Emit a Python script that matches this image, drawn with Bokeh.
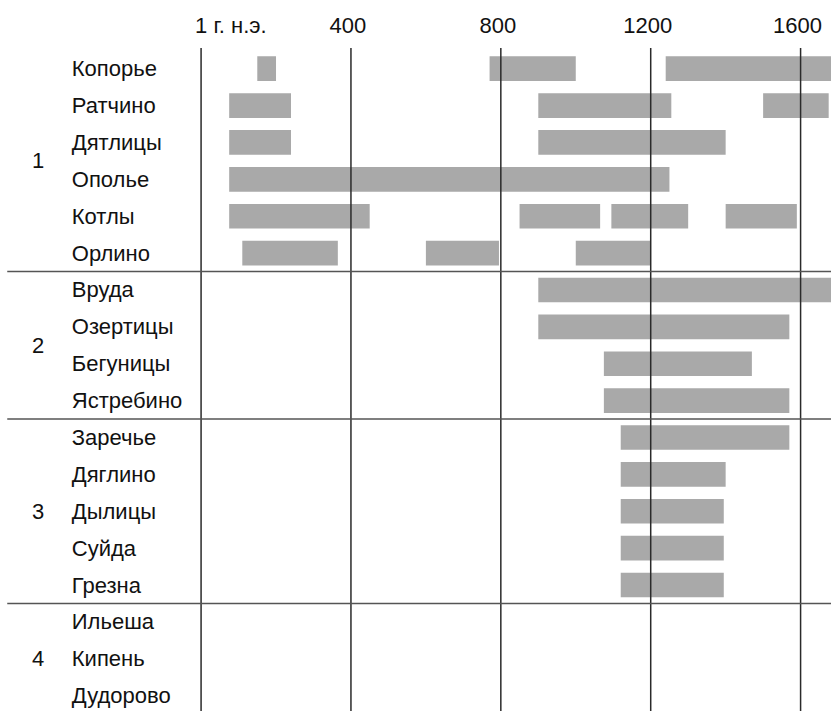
from bokeh.plotting import figure
from bokeh.models import Range1d, ColumnDataSource
from bokeh.core.properties import value
from bokeh.embed import file_html
from bokeh.resources import INLINE

# ---- data ----
sites = ["Копорье", "Ратчино", "Дятлицы", "Ополье", "Котлы", "Орлино",
         "Вруда", "Озертицы", "Бегуницы", "Ястребино",
         "Заречье", "Дяглино", "Дылицы", "Суйда", "Грезна",
         "Ильеша", "Кипень", "Дудорово"]
groups = ["1", "2", "3", "4"]
group_sizes = [6, 4, 5, 3]

# periods of occupation: (site, start year, end year)
bar_site = ["Копорье", "Копорье", "Копорье",
            "Ратчино", "Ратчино", "Ратчино",
            "Дятлицы", "Дятлицы",
            "Ополье",
            "Котлы", "Котлы", "Котлы", "Котлы",
            "Орлино", "Орлино", "Орлино",
            "Вруда", "Озертицы", "Бегуницы", "Ястребино",
            "Заречье", "Дяглино", "Дылицы", "Суйда", "Грезна"]
bar_start = [150, 770, 1240,
             75, 900, 1500,
             75, 900,
             75,
             75, 850, 1095, 1400,
             110, 600, 1000,
             900, 900, 1075, 1075,
             1120, 1120, 1120, 1120, 1120]
bar_end = [200, 1000, 1700,
           240, 1255, 1675,
           240, 1400,
           1250,
           450, 1065, 1300, 1590,
           365, 795, 1200,
           1700, 1570, 1470, 1570,
           1570, 1400, 1395, 1395, 1395]

tick_years = [0, 400, 800, 1200, 1600]
tick_labels = ["1 г. н.э.", "400", "800", "1200", "1600"]

# ---- layout constants ----
X_MIN, X_MAX = -535.3, 1682.5
Y_TOP, Y_BOTTOM = -1.85, 17.43
NAME_X = -345
GROUP_X = -435
TICK_LABEL_Y = -1.18
GRID_TOP = -0.563
FONT = value("Liberation Sans")
FS = "22px"

row_of = {s: i for i, s in enumerate(sites)}

p = figure(width=831, height=711, output_backend="svg", toolbar_location=None,
           x_range=Range1d(X_MIN, X_MAX), y_range=Range1d(Y_BOTTOM, Y_TOP),
           min_border=0, outline_line_color=None)
p.axis.visible = False
p.grid.visible = False
p.background_fill_color = "white"

# bars
src = ColumnDataSource(dict(y=[row_of[s] for s in bar_site], left=bar_start, right=bar_end))
p.hbar(y="y", left="left", right="right", height=0.67, source=src,
       fill_color="#a9a9a9", line_color=None)

# vertical reference lines
p.segment(x0=tick_years, x1=tick_years, y0=[GRID_TOP] * len(tick_years),
          y1=[Y_BOTTOM + 1] * len(tick_years), line_color="#2a2a2a", line_width=1.5)

# group separators
bounds = []
acc = 0
for n in group_sizes[:-1]:
    acc += n
    bounds.append(acc - 0.5)
p.segment(x0=[X_MIN + 18] * len(bounds), x1=[X_MAX + 100] * len(bounds), y0=bounds, y1=bounds,
          line_color="#555555", line_width=1.5)

# site names
p.text(x=[NAME_X] * len(sites), y=list(range(len(sites))), text=sites,
       text_font=FONT, text_font_size=FS, text_color="#111111",
       text_align="left", text_baseline="middle")

# group labels
gy = []
acc = 0
for n in group_sizes:
    gy.append(acc + (n - 1) / 2)
    acc += n
p.text(x=[GROUP_X] * len(groups), y=gy, text=groups,
       text_font=FONT, text_font_size=FS, text_color="#111111",
       text_align="center", text_baseline="middle")

# top tick labels
p.text(x=tick_years[:1], y=[TICK_LABEL_Y], text=tick_labels[:1],
       text_font=FONT, text_font_size=FS, text_color="#111111",
       text_align="left", text_baseline="middle", x_offset=-6)
p.text(x=tick_years[1:], y=[TICK_LABEL_Y] * 4, text=tick_labels[1:],
       text_font=FONT, text_font_size=FS, text_color="#111111",
       text_align="center", text_baseline="middle", x_offset=-3)

open("out.html", "w").write(file_html(p, INLINE))
